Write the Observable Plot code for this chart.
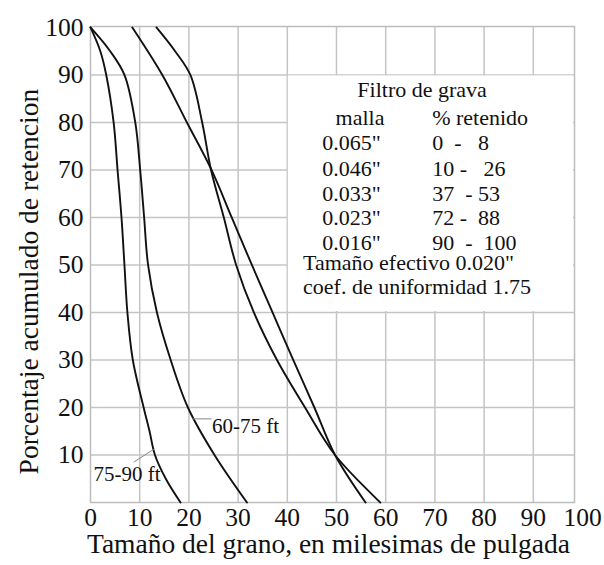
<!DOCTYPE html>
<html>
<head>
<meta charset="utf-8">
<script src="https://cdn.jsdelivr.net/npm/d3@7"></script>
<script src="https://cdn.jsdelivr.net/npm/@observablehq/plot@0.6"></script>
<style>
  html, body { margin: 0; padding: 0; background: #fff; }
</style>
</head>
<body>
<div id="chart"></div>
<script>
// ---- Data ----
const pct75_90 = [100, 95, 90, 80, 70, 60, 50, 40, 30, 20, 15, 10, 5, 0];
const size75_90 = [0, 2.0, 3.2, 4.7, 5.5, 6.3, 6.9, 7.5, 8.6, 10.8, 12.0, 13.1, 15.3, 18.3];

const pct60_75 = [100, 95, 90, 80, 70, 60, 50, 40, 30, 20, 10, 0];
const size60_75 = [0, 4.0, 6.9, 9.1, 10.1, 10.9, 11.7, 13.5, 16.3, 19.8, 25.2, 31.8];

const pctC = [100, 90, 80, 70, 60, 50, 40, 30, 20, 10, 0];
const sizeC = [8.5, 14.6, 19.6, 24.6, 28.7, 32.8, 37.0, 41.2, 45.5, 49.7, 55.9];

const pctD = [100, 95, 90, 80, 70, 60, 50, 40, 30, 20, 10, 0];
const sizeD = [13.4, 17.2, 20.3, 22.7, 24.5, 27.1, 29.6, 33.2, 37.9, 43.6, 49.7, 58.9];

const xTicks = [0, 10, 20, 30, 40, 50, 60, 70, 80, 90, 100];
const yTicks = [10, 20, 30, 40, 50, 60, 70, 80, 90, 100];
const gridX = [10, 20, 30, 40, 50, 60, 70, 80, 90];
const gridY = [10, 20, 30, 40, 50, 60, 70, 80, 90];

const mallaLabels = ["0.065\"", "0.046\"", "0.033\"", "0.023\"", "0.016\""];
const retenidoLabels = ["0  -   8", "10 -   26", "37  - 53", "72 -  88", "90  -  100"];

const xTitle = "Tamaño del grano, en milesimas de pulgada";
const yTitle = "Porcentaje acumulado de retencion";

// ---- Build tables ----
function series(id, xs, ys) { return xs.map((x, i) => ({id, x, y: ys[i]})); }
const curves = [
  ...series("75-90 ft", size75_90, pct75_90),
  ...series("60-75 ft", size60_75, pct60_75),
  ...series("C", sizeC, pctC),
  ...series("D", sizeD, pctD)
];

const xMax = 98.37, yMax = 100.2;
const font = "'Liberation Serif', 'Times New Roman', serif";

// annotation placement (data coordinates)
const curveLabels = [
  {text: "75-90 ft", x: 0.6, y: 6.0},
  {text: "60-75 ft", x: 24.7, y: 16.1}
];
const leaders = [
  {x1: 8.8, y1: 8.5, x2: 13.0, y2: 11.3},
  {x1: 20.7, y1: 17.6, x2: 24.6, y2: 17.6}
];
const rowY = [75.6, 70.3, 65.05, 59.8, 54.7];
const mallaRows = mallaLabels.map((t, i) => ({t, y: rowY[i]}));
const retRows = retenidoLabels.map((t, i) => ({t, y: rowY[i]}));

const grid = "#c4c4c4";
const ink = "#111";

const plot = Plot.plot({
  width: 604,
  height: 565,
  marginLeft: 90,
  marginRight: 30,
  marginTop: 26,
  marginBottom: 63,
  style: {fontFamily: font, background: "white", color: ink, whiteSpace: "pre"},
  x: {domain: [0, xMax]},
  y: {domain: [0, yMax]},
  marks: [
    Plot.ruleX(gridX, {x: d => d, stroke: grid, strokeWidth: 1.5}),
    Plot.ruleY(gridY, {y: d => d, stroke: grid, strokeWidth: 1.5}),
    Plot.rect([0], {x1: 40, x2: xMax, y1: 40, y2: 90, fill: "white", inset: 1}),
    Plot.frame({stroke: "#bcbcbc", strokeWidth: 1.5}),
    Plot.line(curves, {x: "x", y: "y", z: "id", curve: "catmull-rom", stroke: ink, strokeWidth: 1.9}),
    Plot.link(leaders, {x1: "x1", y1: "y1", x2: "x2", y2: "y2", stroke: "#888", strokeWidth: 1}),
    Plot.text(curveLabels, {x: "x", y: "y", text: "text", textAnchor: "start", fontSize: 21, fill: ink}),
    // box text
    Plot.text(["Filtro de grava"], {x: 67.4, y: 86.9, text: d => d, fontSize: 22, fill: ink}),
    Plot.text(["malla"], {x: 49.8, y: 81.05, text: d => d, textAnchor: "start", fontSize: 22, fill: ink}),
    Plot.text(["% retenido"], {x: 69.45, y: 81.05, text: d => d, textAnchor: "start", fontSize: 22, fill: ink}),
    Plot.text(mallaRows, {x: 47.1, y: "y", text: "t", textAnchor: "start", fontSize: 22, fill: ink}),
    Plot.text(retRows, {x: 69.45, y: "y", text: "t", textAnchor: "start", fontSize: 22, fill: ink}),
    Plot.text(["Tamaño efectivo 0.020\""], {x: 43.2, y: 50.5, text: d => d, textAnchor: "start", fontSize: 22, fill: ink}),
    Plot.text(["coef. de uniformidad 1.75"], {x: 43.2, y: 45.3, text: d => d, textAnchor: "start", fontSize: 22, fill: ink}),
    // axes
    Plot.axisX({ticks: xTicks, tickSize: 0, tickPadding: 5, fontSize: 25.5, label: null, tickFormat: d => String(d)}),
    Plot.axisY({ticks: yTicks, tickSize: 0, tickPadding: 7, fontSize: 25.5, label: null, tickFormat: d => String(d)}),
    Plot.text([xTitle], {frameAnchor: "bottom", text: d => d, dy: 50, dx: -4, fontSize: 27.5, fill: ink}),
    Plot.text([yTitle], {x: -12.4, y: 46.5, text: d => d, rotate: -90, fontSize: 27.5, fill: ink})
  ]
});
document.getElementById("chart").appendChild(plot);
</script>
</body>
</html>
